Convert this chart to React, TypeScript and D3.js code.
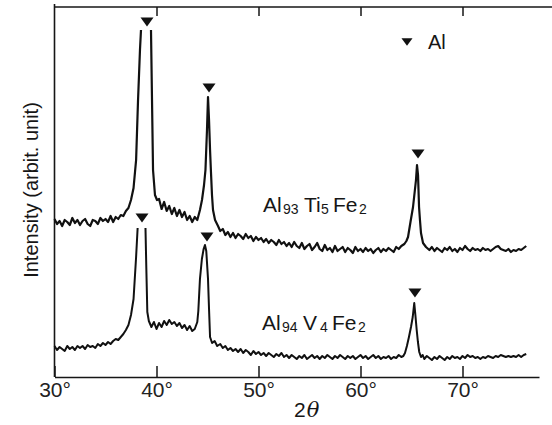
import React, { useEffect, useRef } from "react";
import * as d3 from "d3";

// XRD scans, [2theta (deg), intensity (arbit.)], stacked; null = pen lift at a truncated peak
const TI_SCAN: ([number, number] | null)[] = [
  [30.0, 158], [30.25, 153], [30.5, 156], [30.75, 151], [31.0, 157], [31.25, 155], [31.5, 152], [31.75, 159],
  [32.0, 154], [32.25, 157], [32.5, 152], [32.75, 156], [33.0, 158], [33.25, 153], [33.5, 151], [33.75, 157],
  [34.0, 156], [34.25, 153], [34.5, 159], [34.75, 156], [35.0, 158], [35.25, 155], [35.5, 161], [35.75, 155],
  [36.0, 160], [36.25, 158], [36.5, 162], [36.75, 161], [37.0, 166], [37.25, 169], [37.5, 177], [37.75, 189],
  [38.0, 217], [38.19, 277], [38.38, 327], [38.48, 347],
  null,
  [39.46, 347], [39.56, 277], [39.66, 207], [39.85, 182], [40.05, 177], [40.25, 178], [40.5, 168], [40.75, 175],
  [41.0, 166], [41.25, 171], [41.5, 163], [41.75, 169], [42.0, 161], [42.25, 167], [42.5, 160], [42.75, 165],
  [43.0, 157], [43.25, 161], [43.5, 155], [43.75, 160], [44.0, 157], [44.26, 167], [44.46, 177], [44.66, 192],
  [44.8, 207], [44.95, 247], [45.05, 280], [45.15, 257], [45.25, 227], [45.34, 205], [45.44, 182], [45.54, 167],
  [45.74, 157], [46.03, 151], [46.25, 146], [46.5, 148], [46.75, 142], [47.0, 145], [47.25, 140], [47.5, 144],
  [47.75, 139], [48.0, 143], [48.25, 141], [48.5, 138], [48.75, 143], [49.0, 139], [49.25, 141], [49.5, 136],
  [49.75, 140], [50.0, 137], [50.25, 139], [50.5, 135], [50.75, 138], [51.0, 134], [51.25, 137], [51.5, 135],
  [51.75, 132], [52.0, 137], [52.25, 133], [52.5, 135], [52.75, 131], [53.0, 134], [53.25, 130], [53.5, 135],
  [53.75, 131], [54.0, 129], [54.25, 134], [54.5, 128], [54.75, 131], [55.0, 133], [55.25, 127], [55.5, 130],
  [55.75, 134], [56.0, 128], [56.25, 126], [56.5, 132], [56.75, 127], [57.0, 129], [57.25, 125], [57.5, 131],
  [57.75, 126], [58.0, 128], [58.25, 130], [58.5, 125], [58.75, 129], [59.0, 127], [59.25, 124], [59.5, 130],
  [59.75, 126], [60.0, 128], [60.25, 125], [60.5, 129], [60.75, 126], [61.0, 128], [61.25, 124], [61.5, 127],
  [61.75, 129], [62.0, 125], [62.25, 128], [62.5, 126], [62.75, 129], [63.0, 127], [63.25, 125], [63.5, 130],
  [63.75, 128], [64.0, 131], [64.3, 133], [64.5, 136], [64.66, 140], [64.9, 155], [65.15, 170], [65.44, 197],
  [65.54, 212], [65.64, 202], [65.74, 170], [65.83, 157], [65.93, 144], [66.13, 134], [66.42, 130], [66.75, 127],
  [67.0, 130], [67.25, 126], [67.5, 129], [67.75, 127], [68.0, 125], [68.25, 129], [68.5, 127], [68.75, 130],
  [69.0, 126], [69.25, 128], [69.5, 125], [69.75, 129], [70.0, 127], [70.25, 131], [70.5, 128], [70.75, 126],
  [71.0, 129], [71.25, 127], [71.5, 128], [71.75, 126], [72.0, 129], [72.25, 127], [72.5, 128], [72.75, 126],
  [73.0, 128], [73.25, 130], [73.5, 131], [73.75, 128], [74.0, 127], [74.25, 126], [74.5, 128], [74.75, 125],
  [75.0, 127], [75.25, 126], [75.5, 128], [75.75, 127], [76.0, 129], [76.25, 131]
];

const V_SCAN: ([number, number] | null)[] = [
  [30.0, 31], [30.25, 27], [30.5, 30], [30.75, 28], [31.0, 26], [31.25, 31], [31.5, 28], [31.75, 30],
  [32.0, 27], [32.25, 31], [32.5, 29], [32.75, 31], [33.0, 28], [33.25, 32], [33.5, 30], [33.75, 31],
  [34.0, 29], [34.25, 33], [34.5, 31], [34.75, 34], [35.0, 32], [35.25, 35], [35.5, 33], [35.75, 36],
  [36.0, 38], [36.25, 37], [36.5, 40], [36.75, 43], [37.0, 47], [37.25, 52], [37.5, 62], [37.75, 78],
  [38.0, 120], [38.15, 149],
  null,
  [38.92, 149], [39.0, 110], [39.1, 65], [39.25, 56], [39.5, 50], [39.75, 55], [40.0, 48], [40.25, 54],
  [40.5, 50], [40.75, 56], [41.0, 52], [41.25, 57], [41.5, 53], [41.75, 55], [42.0, 51], [42.25, 54],
  [42.5, 49], [42.75, 52], [43.0, 47], [43.25, 51], [43.5, 46], [43.75, 48], [44.0, 55], [44.1, 66],
  [44.26, 98], [44.45, 118], [44.62, 128], [44.75, 132], [44.88, 126], [45.05, 98], [45.15, 68], [45.25, 40],
  [45.45, 34], [45.7, 36], [45.95, 31], [46.25, 33], [46.5, 29], [46.75, 31], [47.0, 27], [47.25, 29],
  [47.5, 26], [47.75, 28], [48.0, 25], [48.25, 28], [48.5, 24], [48.75, 27], [49.0, 25], [49.25, 22],
  [49.5, 26], [49.75, 23], [50.0, 25], [50.25, 22], [50.5, 24], [50.75, 21], [51.0, 24], [51.25, 22],
  [51.5, 20], [51.75, 23], [52.0, 21], [52.25, 24], [52.5, 20], [52.75, 22], [53.0, 19], [53.25, 22],
  [53.5, 20], [53.75, 18], [54.0, 21], [54.25, 19], [54.5, 22], [54.75, 18], [55.0, 20], [55.25, 22],
  [55.5, 19], [55.75, 21], [56.0, 18], [56.25, 21], [56.5, 19], [56.75, 22], [57.0, 20], [57.25, 18],
  [57.5, 21], [57.75, 19], [58.0, 22], [58.25, 20], [58.5, 18], [58.75, 21], [59.0, 19], [59.25, 21],
  [59.5, 18], [59.75, 20], [60.0, 22], [60.25, 19], [60.5, 21], [60.75, 18], [61.0, 20], [61.25, 22],
  [61.5, 19], [61.75, 21], [62.0, 18], [62.25, 20], [62.5, 19], [62.75, 21], [63.0, 18], [63.25, 20],
  [63.5, 19], [63.75, 22], [64.0, 20], [64.2, 21], [64.36, 24], [64.55, 31], [64.75, 40], [64.95, 50],
  [65.12, 60], [65.27, 74], [65.38, 62], [65.51, 47], [65.63, 35], [65.76, 25], [65.93, 20], [66.1, 22],
  [66.25, 18], [66.5, 21], [66.75, 19], [67.0, 17], [67.25, 20], [67.5, 18], [67.75, 21], [68.0, 19],
  [68.25, 17], [68.5, 20], [68.75, 18], [69.0, 21], [69.25, 19], [69.5, 20], [69.75, 18], [70.0, 21],
  [70.25, 19], [70.5, 22], [70.75, 20], [71.0, 21], [71.25, 19], [71.5, 20], [71.75, 18], [72.0, 20],
  [72.25, 19], [72.5, 21], [72.75, 20], [73.0, 19], [73.25, 21], [73.5, 20], [73.75, 22], [74.0, 21],
  [74.25, 20], [74.5, 21], [74.75, 20], [75.0, 21], [75.25, 20], [75.5, 22], [75.75, 20], [76.0, 22],
  [76.25, 23]
];

// Al reflections marked with a filled triangle, [2theta, height]
const TI_AL_MARKS: [number, number][] = [[39.07, 355], [45.15, 289], [65.64, 223]];
const V_AL_MARKS: [number, number][] = [[38.58, 159], [44.95, 140], [65.34, 84]];

const BOTTOM_TICKS = [30, 40, 50, 60, 70];
const TOP_TICKS = [40, 50, 60, 70];

// sample labels: [text, isSubscript]
const TI_LABEL: [string, boolean][] = [["Al", false], ["93", true], ["Ti", false], ["5", true], ["Fe", false], ["2", true]];
const V_LABEL: [string, boolean][] = [["Al", false], ["94", true], ["V", false], ["4", true], ["Fe", false], ["2", true]];

const FONT = "'Liberation Sans', Arial, Helvetica, sans-serif";
const INK = "#161616";

const width = 552, height = 425;
const x = d3.scaleLinear().domain([30, 77.5]).range([54.5, 539]);
const y = d3.scaleLinear().domain([0, 370]).range([377, 7]);

const line = d3
  .line<[number, number] | null>()
  .defined(d => d !== null)
  .x(d => x(d![0]))
  .y(d => y(d![1]));

const tri = "M-6.5,-4.5L6.5,-4.5L0,4.5Z";

function SampleLabel({ parts, x0, baseline }: { parts: [string, boolean][]; x0: number; baseline: number }) {
  // offsets follow the typeset spacing of the original figure
  const offs = [0, 20, 41, 58, 70, 96];
  return (
    <text fontFamily={FONT} fill={INK}>
      {parts.map(([t, sub], i) => (
        <tspan key={i} x={x0 + offs[i]} y={baseline + (sub ? 2 : 0)} fontSize={sub ? 14 : 21}>
          {t}
        </tspan>
      ))}
    </text>
  );
}

export default function App() {
  const bottomRef = useRef<SVGGElement>(null);
  const topRef = useRef<SVGGElement>(null);

  useEffect(() => {
    const gb = d3.select(bottomRef.current!);
    gb.call(
      d3
        .axisBottom(x)
        .tickValues(BOTTOM_TICKS)
        .tickFormat(d => `${d}°`)
        .tickSizeInner(-11)
        .tickSizeOuter(0)
        .tickPadding(5)
    );
    gb.attr("font-size", null).attr("font-family", null);
    gb.select(".domain").attr("stroke", INK).attr("stroke-width", 1.6);
    gb.selectAll(".tick line").attr("stroke", INK).attr("stroke-width", 1.5);
    gb.selectAll(".tick text")
      .attr("font-family", FONT)
      .attr("font-size", 21)
      .attr("fill", "#222");

    const gt = d3.select(topRef.current!);
    gt.call(d3.axisTop(x).tickValues(TOP_TICKS).tickFormat(() => "").tickSizeInner(-9).tickSizeOuter(0));
    gt.select(".domain").remove();
    gt.selectAll(".tick line").attr("stroke", INK).attr("stroke-width", 1.5);
  }, []);

  const x0 = x(30);

  return (
    <svg width={width} height={height} style={{ position: "absolute", left: 0, top: 0, background: "#fff" }}>
      {/* frame */}
      <line x1={x0} x2={x0} y1={4} y2={y(0)} stroke={INK} strokeWidth={1.6} />
      <line x1={x0} x2={width} y1={y(370)} y2={y(370)} stroke={INK} strokeWidth={1.6} />
      <g ref={topRef} transform={`translate(0,${y(370)})`} />
      <g ref={bottomRef} transform={`translate(0,${y(0)})`} />

      {/* scans */}
      <path d={line(TI_SCAN) || ""} fill="none" stroke="#111" strokeWidth={2.2} strokeLinejoin="round" />
      <path d={line(V_SCAN) || ""} fill="none" stroke="#111" strokeWidth={2} strokeLinejoin="round" />

      {/* Al markers */}
      {[...TI_AL_MARKS, ...V_AL_MARKS].map(([a, h], i) => (
        <path key={i} d={tri} transform={`translate(${x(a)},${y(h)})`} fill="#111" />
      ))}

      {/* legend */}
      <path d={tri} transform="translate(407,42) scale(0.85)" fill="#111" />
      <text x={428} y={49} fontFamily={FONT} fontSize={20} fill={INK}>Al</text>

      {/* sample labels */}
      <SampleLabel parts={TI_LABEL} x0={263} baseline={212} />
      <SampleLabel parts={V_LABEL} x0={262} baseline={330} />

      {/* axis titles */}
      <text x={294} y={417} fontFamily={FONT} fontSize={21} fill={INK}>
        2<tspan fontStyle="italic" fontFamily="'DejaVu Serif', serif" dx={1}>θ</tspan>
      </text>
      <text
        transform="translate(38,190) rotate(-90)"
        textAnchor="middle"
        fontFamily={FONT}
        fontSize={20}
        fill={INK}
      >
        Intensity (arbit. unit)
      </text>
    </svg>
  );
}
